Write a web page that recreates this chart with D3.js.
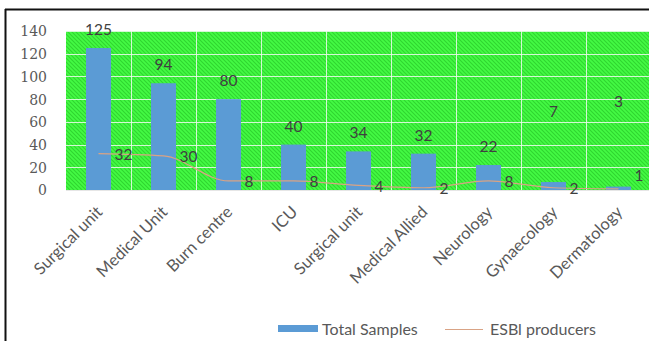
<!DOCTYPE html>
<html>
<head>
<meta charset="utf-8">
<script src="https://cdn.jsdelivr.net/npm/d3@7/dist/d3.min.js"></script>
<style>
  html, body { margin: 0; padding: 0; background: #fff; }
  svg { display: block; }
</style>
</head>
<body>
<svg id="chart" width="649" height="341"></svg>
<script>
// Hospital units and their sample counts
const categories = ["Surgical unit", "Medical Unit", "Burn centre", "ICU", "Surgical unit",
                    "Medical Allied", "Neurology", "Gynaecology", "Dermatology"];
const totalSamples = [125, 94, 80, 40, 34, 32, 22, 7, 3];
const esblProducers = [32, 30, 8, 8, 4, 2, 8, 2, 1];
const yTicks = [0, 20, 40, 60, 80, 100, 120, 140];
const seriesNames = ["Total Samples", "ESBl producers"];

// Layout
const W = 649, H = 341;
const plot = { left: 66, top: 31, bottom: 190, step: 65 };
plot.right = plot.left + plot.step * categories.length;

// Hand-placed label lifts (px) for a few labels that sit away from their mark
const barLabelLift = { 7: 52, 8: 67 };
const lineLabelLift = { 8: 14 };

const svg = d3.select("#chart");

const x = d3.scaleBand()
  .domain(d3.range(categories.length))
  .range([plot.left, plot.right])
  .paddingInner(0.615)
  .paddingOuter(0.3075);
const cx = i => x(i) + x.bandwidth() / 2;

const y = d3.scaleLinear().domain([0, 140]).range([plot.bottom, plot.top]);

// Hatched green plot background
const defs = svg.append("defs");
const pat = defs.append("pattern")
  .attr("id", "hatch")
  .attr("patternUnits", "userSpaceOnUse")
  .attr("width", 4).attr("height", 4);
pat.append("rect").attr("width", 4).attr("height", 4).attr("fill", "#44fa44");
pat.append("path")
  .attr("d", "M-1,-1 L5,5 M-1,3 L1,5 M3,-1 L5,1")
  .attr("stroke", "#2fd62f").attr("stroke-width", 1.1);

svg.append("rect")
  .attr("x", plot.left).attr("y", plot.top)
  .attr("width", plot.right - plot.left).attr("height", plot.bottom - plot.top)
  .attr("fill", "url(#hatch)");

// Gridlines
const grid = svg.append("g").attr("stroke", "#eefaee").attr("stroke-opacity", 0.85).attr("stroke-width", 1);
grid.selectAll("line.h").data(yTicks.slice(1)).join("line")
  .attr("x1", plot.left).attr("x2", plot.right)
  .attr("y1", d => Math.round(y(d)) + 0.5).attr("y2", d => Math.round(y(d)) + 0.5);
grid.selectAll("line.v").data(d3.range(1, categories.length)).join("line")
  .attr("y1", plot.top).attr("y2", plot.bottom)
  .attr("x1", i => plot.left + i * plot.step + 0.5).attr("x2", i => plot.left + i * plot.step + 0.5);

// Baseline
svg.append("line")
  .attr("x1", plot.left).attr("x2", plot.right)
  .attr("y1", plot.bottom + 0.5).attr("y2", plot.bottom + 0.5)
  .attr("stroke", "#e6e6e6").attr("stroke-width", 1);

// Y axis labels
const yAxis = d3.axisLeft(y).tickValues(yTicks).tickSize(0).tickPadding(0);
const yg = svg.append("g").attr("transform", `translate(47,0)`).call(yAxis);
yg.select(".domain").remove();
yg.selectAll("text")
  .attr("font-family", "'DejaVu Serif', serif")
  .attr("font-size", 14)
  .attr("fill", "#595959")
  .attr("dy", "0.35em");

// Bars
svg.append("g").selectAll("rect").data(totalSamples).join("rect")
  .attr("x", (d, i) => x(i)).attr("width", x.bandwidth())
  .attr("y", d => y(d)).attr("height", d => y(0) - y(d))
  .attr("fill", "#5b9bd5");

// ESBL line
const lineColor = "#d9a385";
const line = d3.line().x((d, i) => cx(i)).y(d => y(d)).curve(d3.curveMonotoneX);
svg.append("path")
  .datum(esblProducers)
  .attr("d", line)
  .attr("fill", "none")
  .attr("stroke", lineColor)
  .attr("stroke-width", 1.2);

// Bar value labels
const labelFont = "Lato, 'Open Sans', sans-serif";
svg.append("g").selectAll("text").data(totalSamples).join("text")
  .attr("x", (d, i) => cx(i))
  .attr("y", (d, i) => y(d) - 13 - (barLabelLift[i] || 0))
  .attr("text-anchor", "middle")
  .attr("font-family", labelFont).attr("font-size", 15.5)
  .attr("fill", "#404040")
  .text(d => d);

// Line value labels (right of each point)
svg.append("g").selectAll("text").data(esblProducers).join("text")
  .attr("x", (d, i) => cx(i) + 16)
  .attr("y", (d, i) => y(d) + 1 - (lineLabelLift[i] || 0))
  .attr("dy", "0.35em")
  .attr("font-family", labelFont).attr("font-size", 15.5)
  .attr("fill", "#404040")
  .text(d => d);

// Category labels, rotated
const xAxis = d3.axisBottom(x).tickSize(0).tickPadding(0).tickFormat(i => categories[i]);
const xg = svg.append("g").attr("transform", `translate(0,${plot.bottom})`).call(xAxis);
xg.select(".domain").remove();
xg.selectAll("text")
  .attr("font-family", labelFont).attr("font-size", 16.5)
  .attr("fill", "#595959")
  .attr("text-anchor", "end")
  .attr("dy", null).attr("y", null)
  .attr("transform", "translate(5,23) rotate(-45)");

// Frame
svg.append("line").attr("x1", 5).attr("x2", W).attr("y1", 9.5).attr("y2", 9.5)
  .attr("stroke", "#111").attr("stroke-width", 2.2);
svg.append("line").attr("x1", 5.5).attr("x2", 5.5).attr("y1", 9).attr("y2", H)
  .attr("stroke", "#111").attr("stroke-width", 2);

// Legend
const lg = svg.append("g").attr("font-family", labelFont).attr("font-size", 16).attr("fill", "#595959");
lg.append("rect").attr("x", 278).attr("y", 325).attr("width", 40).attr("height", 7).attr("fill", "#5b9bd5");
lg.append("text").attr("x", 322).attr("y", 335).text(seriesNames[0]);
lg.append("line").attr("x1", 445).attr("x2", 483).attr("y1", 329.5).attr("y2", 329.5)
  .attr("stroke", lineColor).attr("stroke-width", 1.2);
lg.append("text").attr("x", 490).attr("y", 335).text(seriesNames[1]);
</script>
</body>
</html>
